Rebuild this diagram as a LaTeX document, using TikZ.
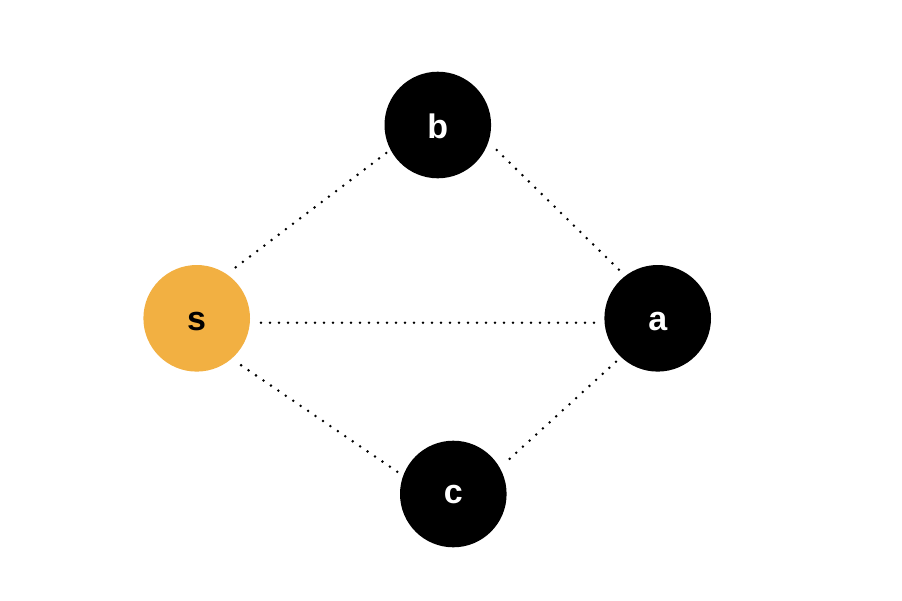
\documentclass[tikz,border=0pt]{standalone}
\usepackage{fontspec}
\setmainfont{Liberation Sans}
\usetikzlibrary{calc}
\definecolor{sorange}{RGB}{242,176,66}
\tikzset{
  vert/.style={circle,inner sep=0pt,minimum size=106.6pt,fill=black,draw=none},
  src/.style={vert,fill=sorange},
  lbl/.style={inner sep=0pt,font=\fontsize{34}{38}\selectfont\bfseries},
  edge/.style={line width=2.8pt,line cap=round,dash pattern=on 0pt off 9pt,black}
}
\begin{document}
\begin{tikzpicture}[x=1pt,y=-1pt]
\useasboundingbox (0,0) rectangle (902,600);
\fill[white] (0,0) rectangle (902,600);
% nodes
\node[src]  (s) at (196.7,318.3) {};
\node[vert] (b) at (437.8,125) {};
\node[vert] (a) at (657.7,318.3) {};
\node[vert] (c) at (453.3,494) {};
% connector end points
\coordinate (sb1) at ($(s)+(39,-51)$);
\coordinate (sb2) at ($(b)+(-48.5,25.7)$);
\coordinate (ba1) at ($(b)+(58.9,25)$);
\coordinate (ba2) at ($(a)+(-36.7,-46.6)$);
\coordinate (sa1) at ($(s)+(64.3,4.4)$);
\coordinate (sa2) at ($(a)+(-59.7,4.4)$);
\coordinate (ac1) at ($(a)+(-41.7,43.4)$);
\coordinate (ac2) at ($(c)+(55,-34)$);
\coordinate (cs1) at ($(c)+(-56,-22.3)$);
\coordinate (cs2) at ($(s)+(41.6,45)$);
% connectors
\draw[edge] (sb1) -- (sb2);
\draw[edge] (ba1) -- (ba2);
\draw[edge] (sa1) -- (sa2);
\draw[edge] (ac1) -- (ac2);
\draw[edge] (cs1) -- (cs2);
% labels
\node[lbl,text=black] (sl) at ($(s)+(0,3)$) {s};
\node[lbl,text=white] (bl) at ($(b)+(0,1)$) {b};
\node[lbl,text=white] (al) at ($(a)+(0,3)$) {a};
\node[lbl,text=white] (cl) at ($(c)+(0,1)$) {c};
\end{tikzpicture}
\end{document}
